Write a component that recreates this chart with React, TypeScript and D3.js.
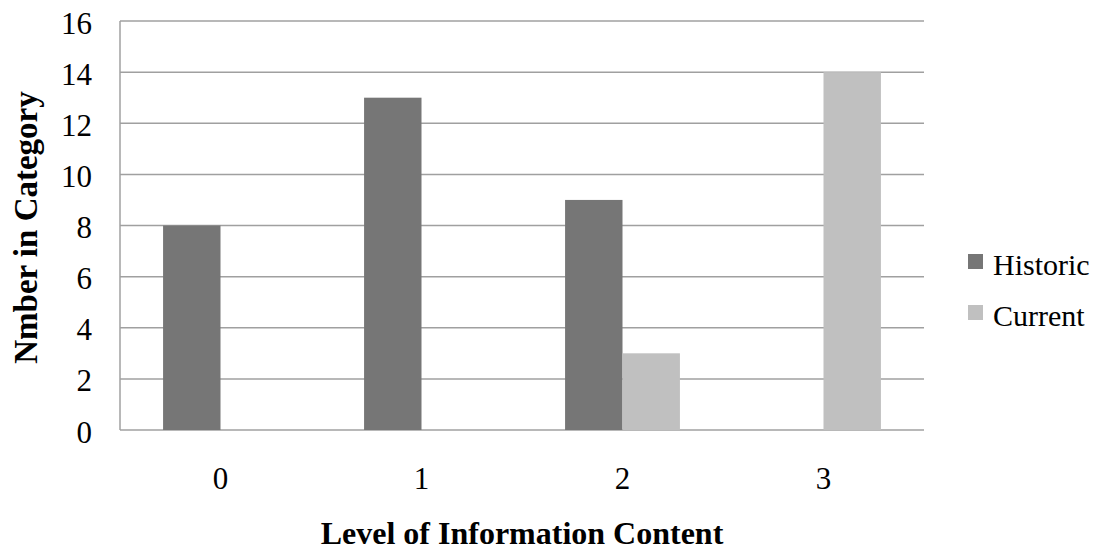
import React from "react";
import * as d3 from "d3";

const categories = ["0", "1", "2", "3"];
const historic = [8, 13, 9, 0];
const current = [0, 0, 3, 14];
const seriesNames = ["Historic", "Current"];
const yTicks = [0, 2, 4, 6, 8, 10, 12, 14, 16];

const W = 1097;
const H = 552;
const margin = { left: 120, right: 173, top: 21, bottom: 122 };
const colors = ["#767676", "#C0C0C0"];
const font = "'Liberation Serif', 'Times New Roman', serif";

export default function App() {
  const innerW = W - margin.left - margin.right;
  const innerH = H - margin.top - margin.bottom;

  const x = d3.scaleBand<string>().domain(categories).range([margin.left, margin.left + innerW]);
  const y = d3.scaleLinear().domain([0, 16]).range([margin.top + innerH, margin.top]);
  const barW = x.bandwidth() / 3.5;

  const series = [historic, current];

  return (
    <svg width={W} height={H} style={{ position: "absolute", left: 0, top: 0, background: "#fff" }}>
      {yTicks.map((t) => (
        <line key={t} x1={margin.left} x2={margin.left + innerW} y1={y(t)} y2={y(t)} stroke="#A0A0A0" strokeWidth={1.5} />
      ))}
      <line x1={margin.left} x2={margin.left} y1={y(16)} y2={y(0)} stroke="#A0A0A0" strokeWidth={1.5} />
      {series.map((vals, si) =>
        vals.map((v, i) =>
          v > 0 ? (
            <rect
              key={`${si}-${i}`}
              x={(x(categories[i]) as number) + x.bandwidth() / 2 - barW + si * barW}
              y={y(v)}
              width={barW}
              height={y(0) - y(v)}
              fill={colors[si]}
            />
          ) : null
        )
      )}
      {yTicks.map((t) => (
        <text key={t} x={92} y={y(t) + 12.5} textAnchor="end" fontFamily={font} fontSize={31} fill="#000">
          {t}
        </text>
      ))}
      {categories.map((c) => (
        <text key={c} x={(x(c) as number) + x.bandwidth() / 2} y={489} textAnchor="middle" fontFamily={font} fontSize={31} fill="#000">
          {c}
        </text>
      ))}
      <text x={margin.left + innerW / 2} y={544} textAnchor="middle" fontFamily={font} fontSize={32} fontWeight="bold" fill="#000">
        Level of Information Content
      </text>
      <text
        transform={`translate(37, ${margin.top + innerH / 2 + 2}) rotate(-90)`}
        textAnchor="middle"
        fontFamily={font}
        fontSize={33}
        fontWeight="bold"
        fill="#000"
      >
        Nmber in Category
      </text>
      {seriesNames.map((s, i) => (
        <g key={s} transform={`translate(968, ${254 + i * 51})`}>
          <rect x={0} y={0} width={15} height={15} fill={colors[i]} />
          <text x={25} y={21} fontFamily={font} fontSize={30} fill="#000">
            {s}
          </text>
        </g>
      ))}
    </svg>
  );
}
